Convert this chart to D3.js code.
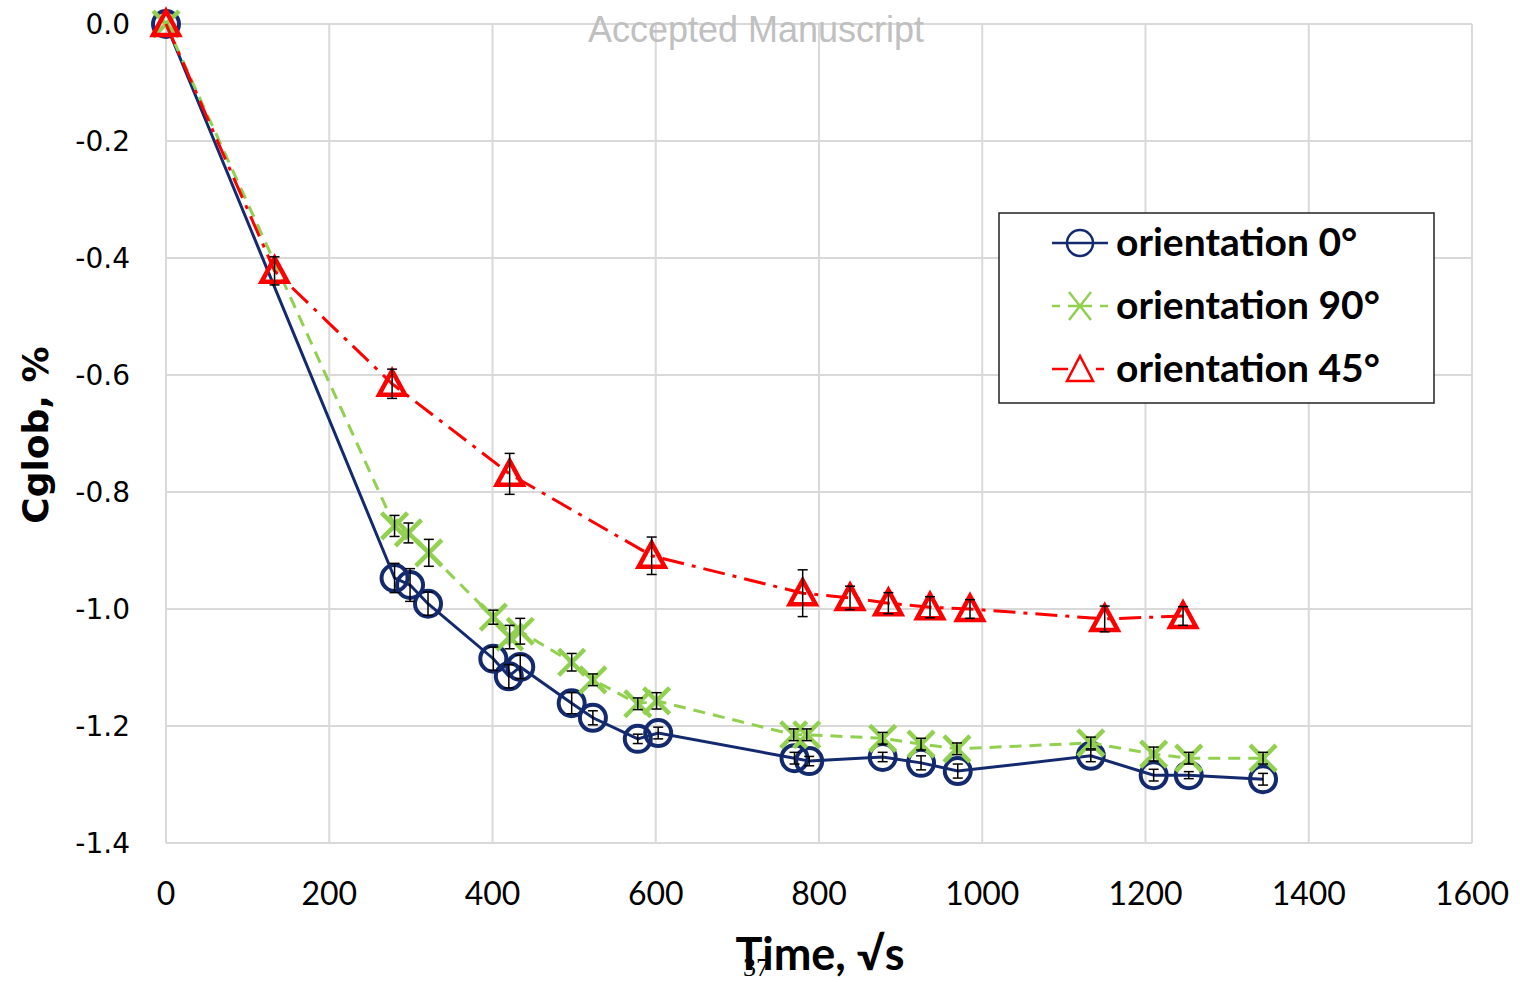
<!DOCTYPE html>
<html>
<head>
<meta charset="utf-8">
<script src="https://cdn.jsdelivr.net/npm/d3@7"></script>
<style>
  body { margin: 0; background: #fff; }
  svg { display: block; }
</style>
</head>
<body>
<svg width="1520" height="982"></svg>
<script>
// data (time in sqrt(s), Cglob in %)
var t0 = [0, 280, 299, 321, 401, 420, 434, 497, 523, 578, 603, 770, 788, 878, 925, 970, 1133, 1210, 1253, 1344];
var c0 = [0, -0.947, -0.959, -0.991, -1.085, -1.115, -1.099, -1.161, -1.186, -1.222, -1.212, -1.255, -1.260, -1.253, -1.263, -1.277, -1.251, -1.284, -1.284, -1.291];
var e0 = [0, 0.025, 0.028, 0.02, 0.02, 0.02, 0.02, 0.018, 0.012, 0.008, 0.01, 0.01, 0.008, 0.008, 0.012, 0.012, 0.01, 0.01, 0.006, 0.01];

var t90 = [0, 280, 297, 322, 401, 421, 434, 497, 523, 578, 601, 769, 785, 878, 925, 969, 1133, 1210, 1253, 1344];
var c90 = [0, -0.858, -0.870, -0.904, -1.014, -1.048, -1.038, -1.091, -1.121, -1.162, -1.157, -1.215, -1.215, -1.221, -1.231, -1.239, -1.229, -1.248, -1.255, -1.255];
var e90 = [0, 0.018, 0.017, 0.023, 0.012, 0.02, 0.022, 0.015, 0.01, 0.01, 0.014, 0.01, 0.01, 0.01, 0.01, 0.01, 0.01, 0.012, 0.01, 0.01];

var t45 = [0, 133, 277, 421, 595, 780, 838, 885, 936, 985, 1150, 1246];
var c45 = [0, -0.422, -0.615, -0.769, -0.909, -0.973, -0.981, -0.990, -0.997, -1.000, -1.017, -1.012];
var e45 = [0, 0.024, 0.025, 0.035, 0.032, 0.04, 0.02, 0.018, 0.018, 0.016, 0.022, 0.016];

var xTicks = [0, 200, 400, 600, 800, 1000, 1200, 1400, 1600];
var yTicks = [0, -0.2, -0.4, -0.6, -0.8, -1.0, -1.2, -1.4];

var names = ["orientation 0°", "orientation 90°", "orientation 45°"];

var svg = d3.select("svg");
var x = d3.scaleLinear().domain([0, 1600]).range([166, 1472]);
var y = d3.scaleLinear().domain([-1.4, 0]).range([843, 24]);

// grid
svg.append("g").selectAll("line").data(xTicks).enter().append("line")
  .attr("x1", d => x(d)).attr("x2", d => x(d))
  .attr("y1", y(0)).attr("y2", y(-1.4))
  .attr("stroke", "#d9d9d9").attr("stroke-width", 2);
svg.append("g").selectAll("line").data(yTicks).enter().append("line")
  .attr("x1", x(0)).attr("x2", x(1600))
  .attr("y1", d => y(d)).attr("y2", d => y(d))
  .attr("stroke", "#d9d9d9").attr("stroke-width", 2);

// tick labels
svg.append("g").selectAll("text").data(yTicks).enter().append("text")
  .attr("x", 130).attr("y", d => y(d) + 10)
  .attr("text-anchor", "end")
  .style("font-family", "DejaVu Sans").style("font-size", "28px")
  .text(d => d3.format(".1f")(d).replace("−", "-"));
svg.append("g").selectAll("text").data(xTicks).enter().append("text")
  .attr("x", d => x(d)).attr("y", 905)
  .attr("text-anchor", "middle")
  .style("font-family", "Lato").style("font-size", "32px")
  .text(d => d);

// axis titles
svg.append("text")
  .attr("transform", "translate(48,435) rotate(-90)")
  .attr("text-anchor", "middle")
  .style("font-family", "DejaVu Sans").style("font-weight", "bold").style("font-size", "36px")
  .text("Cglob, %");
svg.append("text")
  .attr("x", 820).attr("y", 970)
  .attr("text-anchor", "middle")
  .style("font-family", "Lato").style("font-weight", "bold").style("font-size", "45px")
  .text("Time, √s");

// series
var series = [
  {t: t0, c: c0, e: e0, color: "#142a6e", dash: null, marker: "circle"},
  {t: t90, c: c90, e: e90, color: "#92d050", dash: "12,8", marker: "x"},
  {t: t45, c: c45, e: e45, color: "#ff0000", dash: "22,8,4,8", marker: "tri"}
];

function drawMarker(g, type, color) {
  if (type === "circle") {
    g.append("circle").attr("r", 13).attr("fill", "none")
      .attr("stroke", color).attr("stroke-width", 4);
  } else if (type === "x") {
    g.append("path").attr("d", "M-13,-13L13,13M-13,13L13,-13")
      .attr("stroke", color).attr("stroke-width", 4.5).attr("fill", "none");
  } else {
    g.append("path").attr("d", "M0,-13L13,11L-13,11Z")
      .attr("stroke", color).attr("stroke-width", 4.5).attr("fill", "none")
      .attr("stroke-linejoin", "miter");
  }
}

var line = d3.line().x(d => x(d[0])).y(d => y(d[1]));

series.forEach(function (s) {
  var pts = s.t.map((t, i) => [t, s.c[i], s.e[i]]);
  svg.append("path").datum(pts)
    .attr("d", line).attr("fill", "none")
    .attr("stroke", s.color).attr("stroke-width", 3)
    .attr("stroke-dasharray", s.dash);
  svg.append("g").selectAll("g").data(pts).enter().append("g")
    .attr("transform", d => `translate(${x(d[0])},${y(d[1])})`)
    .each(function () { drawMarker(d3.select(this), s.marker, s.color); });
});

// error bars on top
series.forEach(function (s) {
  var pts = s.t.map((t, i) => [t, s.c[i], s.e[i]]).filter(d => d[2] > 0);
  var eb = svg.append("g").selectAll("g").data(pts).enter().append("g")
    .attr("stroke", "#000").attr("stroke-width", 1.5);
  eb.append("line")
    .attr("x1", d => x(d[0])).attr("x2", d => x(d[0]))
    .attr("y1", d => y(d[1] - d[2])).attr("y2", d => y(d[1] + d[2]));
  eb.append("line")
    .attr("x1", d => x(d[0]) - 5).attr("x2", d => x(d[0]) + 5)
    .attr("y1", d => y(d[1] - d[2])).attr("y2", d => y(d[1] - d[2]));
  eb.append("line")
    .attr("x1", d => x(d[0]) - 5).attr("x2", d => x(d[0]) + 5)
    .attr("y1", d => y(d[1] + d[2])).attr("y2", d => y(d[1] + d[2]));
});

// legend
var lg = svg.append("g");
lg.append("rect").attr("x", 999).attr("y", 213).attr("width", 435).attr("height", 190)
  .attr("fill", "#fff").attr("stroke", "#222").attr("stroke-width", 1.5);
series.forEach(function (s, i) {
  var cy = 243 + i * 63;
  lg.append("line").attr("x1", 1052).attr("x2", 1108).attr("y1", cy).attr("y2", cy)
    .attr("stroke", s.color).attr("stroke-width", 2.5)
    .attr("stroke-dasharray", s.dash ? (i === 1 ? "8,8,24,8,8" : "16,12,0,16,8") : null);
  var m = lg.append("g").attr("transform", `translate(1080,${cy})`);
  if (s.marker === "circle") {
    m.append("circle").attr("r", 13).attr("fill", "none").attr("stroke", s.color).attr("stroke-width", 2.5);
  } else if (s.marker === "x") {
    m.append("path").attr("d", "M-11,-14L11,14M-11,14L11,-14").attr("stroke", s.color).attr("stroke-width", 2.5);
  } else {
    m.append("path").attr("d", "M0,-13L13,12L-13,12Z").attr("fill", "#fff").attr("stroke", s.color).attr("stroke-width", 2.5);
  }
  lg.append("text").attr("x", 1116).attr("y", cy + 13)
    .style("font-family", "Lato").style("font-weight", "bold").style("font-size", "39px")
    .text(names[i]);
});

// watermark and page number
svg.append("text").attr("x", 756).attr("y", 42).attr("text-anchor", "middle")
  .style("font-family", "Liberation Sans").style("font-size", "36px").attr("fill", "#c0c0c0")
  .text("Accepted Manuscript");
svg.append("text").attr("x", 756).attr("y", 976).attr("text-anchor", "middle")
  .style("font-family", "Liberation Serif").style("font-size", "26px").attr("fill", "#000")
  .text("37");
</script>
</body>
</html>
